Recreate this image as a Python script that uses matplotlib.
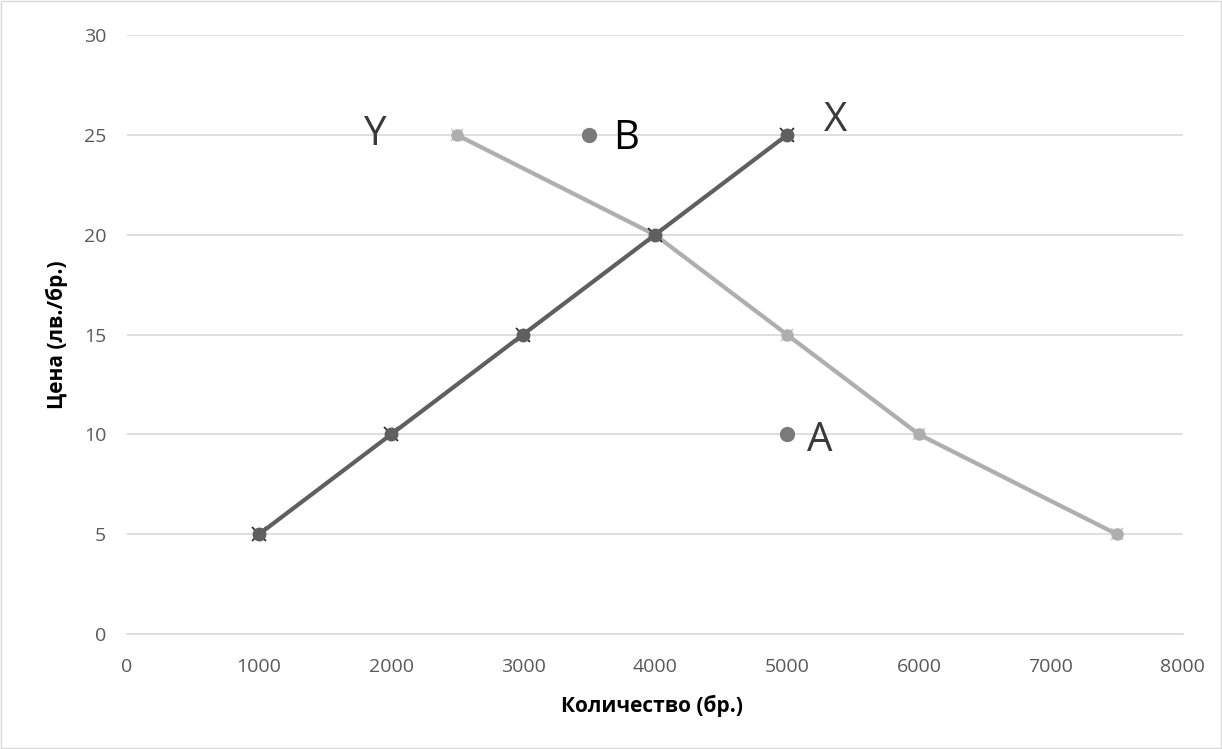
import matplotlib
matplotlib.use("Agg")
import matplotlib.pyplot as plt

# Supply (X) and demand (Y) data
supply_q = [1000, 2000, 3000, 4000, 5000]
supply_p = [5, 10, 15, 20, 25]
demand_q = [2500, 4000, 5000, 6000, 7500]
demand_p = [25, 20, 15, 10, 5]
point_q = [5000, 3500]
point_p = [10, 25]

labels = ["Y", "B", "X", "A"]
label_q = [1880, 3780, 5370, 5250]
label_p = [25, 24.8, 25.7, 9.7]

plt.rcParams['font.family'] = ['Open Sans', 'DejaVu Sans']

fig = plt.figure(figsize=(12.22, 7.49), dpi=100)
ax = fig.add_axes([0.104, 0.1535, 0.864, 0.7995])

# demand line (light gray), doubled slightly like the source
ax.plot(demand_q, demand_p, color="#c8c8c8", lw=3.2, marker="x", ms=9, mew=1.2, zorder=2)
ax.plot(demand_q, demand_p, color="#aeaeae", lw=2.6, marker="o", ms=8, zorder=3)

# supply line (dark gray)
ax.plot(supply_q, supply_p, color="#262626", lw=0, marker="x", ms=10, mew=1.2, zorder=3)
ax.plot(supply_q, supply_p, color="#5f5f5f", lw=3, marker="o", ms=9, zorder=4)

ax.plot(point_q, point_p, ls="none", marker="o", ms=10, color="#7a7a7a", zorder=4)

for t, q, p in zip(labels, label_q, label_p):
    ax.text(q, p, t, fontsize=29, ha="center", va="center",
            color="#000000" if t == "B" else "#3a3a3a")

ax.set_xlim(0, 8000)
ax.set_ylim(0, 30)
ax.set_xticks(range(0, 8001, 1000))
ax.set_yticks(range(0, 31, 5))
ax.grid(axis="y", color="#d9d9d9", lw=1.2)
ax.set_axisbelow(True)
for s in ["top", "right", "left"]:
    ax.spines[s].set_visible(False)
ax.spines["bottom"].set_color("#d9d9d9")
ax.spines["bottom"].set_linewidth(1.2)
ax.tick_params(length=0, labelsize=14, labelcolor="#595959")
ax.tick_params(axis="x", pad=17)
ax.tick_params(axis="y", pad=15)

ax.set_xlabel("Количество (бр.)", fontsize=15, fontweight="bold", va="center")
ax.set_ylabel("Цена (лв./бр.)", fontsize=15, fontweight="bold", va="center")
ax.xaxis.set_label_coords(0.497, -0.12)
ax.yaxis.set_label_coords(-0.066, 0.5)

# outer chart border
fig.patches.append(plt.Rectangle((0.001, 0.001), 0.998, 0.998, transform=fig.transFigure,
                                 fill=False, edgecolor="#d9d9d9", lw=1))

fig.savefig("out.png", dpi=100)
